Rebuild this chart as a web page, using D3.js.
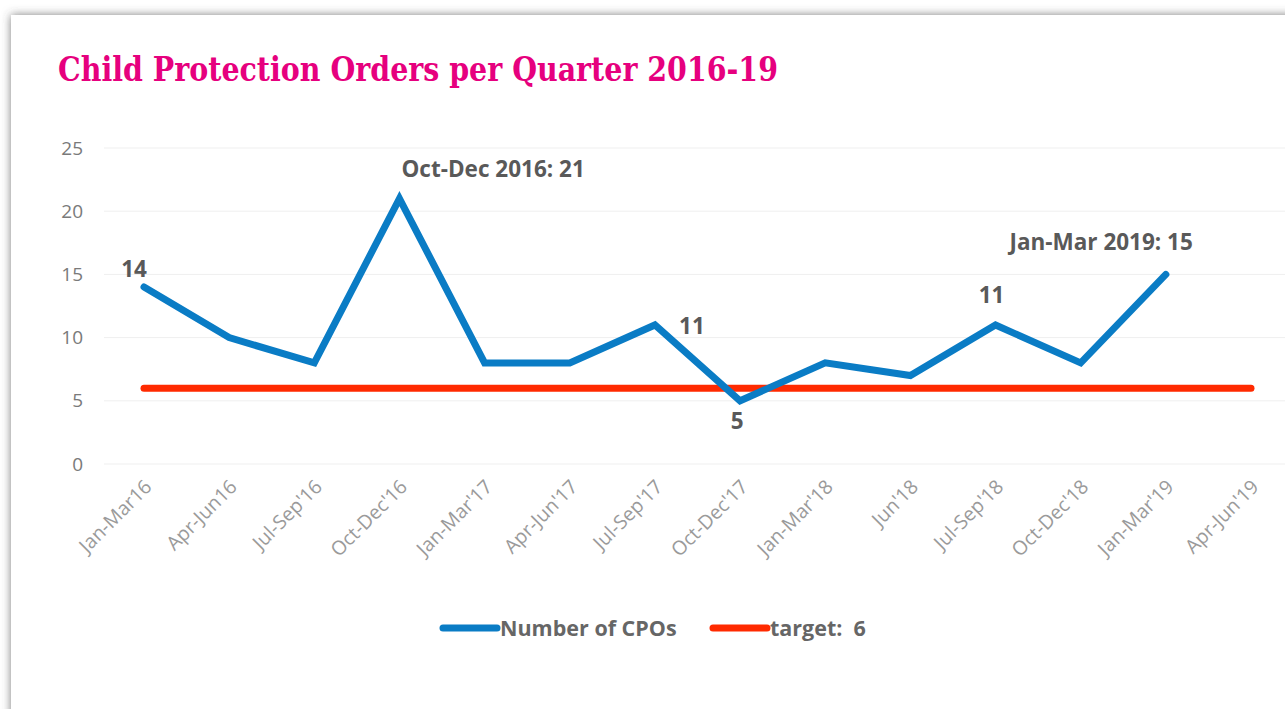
<!DOCTYPE html>
<html>
<head>
<meta charset="utf-8">
<script src="https://cdn.jsdelivr.net/npm/d3@7"></script>
<style>
  html, body { margin: 0; padding: 0; background: #fff; }
  svg { display: block; }
</style>
</head>
<body>
<div id="chart"></div>
<script>
// data
const quarters = ["Jan-Mar16", "Apr-Jun16", "Jul-Sep'16", "Oct-Dec'16", "Jan-Mar'17", "Apr-Jun'17",
  "Jul-Sep'17", "Oct-Dec'17", "Jan-Mar'18", "Jun'18", "Jul-Sep'18", "Oct-Dec'18", "Jan-Mar'19", "Apr-Jun'19"];
const cpoValues = [14, 10, 8, 21, 8, 8, 11, 5, 8, 7, 11, 8, 15, null];
const targetValues = [6, 6, 6, 6, 6, 6, 6, 6, 6, 6, 6, 6, 6, 6];
const yTicks = [0, 5, 10, 15, 20, 25];
const seriesNames = ["Number of CPOs", "target:  6"];
// data labels: index of point + text
const pointLabels = [
  { i: 0, text: "14", pos: "upleft" },
  { i: 3, text: "Oct-Dec 2016: 21", pos: "aboveright" },
  { i: 6, text: "11", pos: "right" },
  { i: 7, text: "5", pos: "below" },
  { i: 10, text: "11", pos: "above" },
  { i: 12, text: "Jan-Mar 2019: 15", pos: "aboveleft" }
];

const W = 1285, H = 709;
const blue = "#0a7cc5", red = "#ff2a00";

const svg = d3.select("#chart").append("svg")
  .attr("width", W).attr("height", H);

// card with shadow
const defs = svg.append("defs");
const f = defs.append("filter").attr("id", "shadow")
  .attr("x", "-5%").attr("y", "-5%").attr("width", "110%").attr("height", "110%");
f.append("feDropShadow").attr("dx", 0).attr("dy", 0)
  .attr("stdDeviation", 5).attr("flood-color", "#444").attr("flood-opacity", 0.7);

svg.append("rect").attr("width", W).attr("height", H).attr("fill", "#fff");
svg.append("rect")
  .attr("x", 11).attr("y", 15).attr("width", W + 40).attr("height", H + 40)
  .attr("fill", "#fff").attr("filter", "url(#shadow)");

// title
svg.append("text")
  .attr("x", 58).attr("y", 81)
  .attr("fill", "#e6007e")
  .style("font-family", "'DejaVu Serif Condensed', 'DejaVu Serif', serif")
  .style("font-weight", "700")
  .style("font-size", "33px")
  .attr("textLength", 720)
  .attr("lengthAdjust", "spacingAndGlyphs")
  .text("Child Protection Orders per Quarter 2016-19");

// scales
const x = d3.scalePoint().domain(quarters).range([144, 1251]);
const step = x.step();
const y = d3.scaleLinear().domain([0, 25]).range([464, 148]);

// gridlines
svg.append("g")
  .selectAll("line")
  .data(yTicks)
  .join("line")
  .attr("x1", 104).attr("x2", 1251 + step / 2)
  .attr("y1", d => y(d)).attr("y2", d => y(d))
  .attr("stroke", "#efefef").attr("stroke-width", 1);

// y axis
const yAxis = svg.append("g")
  .attr("transform", "translate(83,0)")
  .call(d3.axisLeft(y).tickValues(yTicks).tickSize(0).tickPadding(0));
yAxis.select(".domain").remove();
yAxis.selectAll("text")
  .attr("fill", "#7a7a7a")
  .style("font-family", "'Open Sans', sans-serif")
  .style("font-size", "19px");

// x axis labels
const xAxis = svg.append("g")
  .call(d3.axisBottom(x).tickSize(0).tickPadding(0));
xAxis.select(".domain").remove();
xAxis.selectAll(".tick").attr("transform", null);
xAxis.selectAll(".tick text")
  .attr("y", null).attr("dy", null)
  .attr("text-anchor", "end")
  .attr("transform", d => `translate(${x(d) + 9},488) rotate(-45)`)
  .attr("fill", "#9a9a9a")
  .style("font-family", "'Open Sans', sans-serif")
  .style("font-size", "19.5px");

// lines
const line = d3.line()
  .defined(d => d != null)
  .x((d, i) => x(quarters[i]))
  .y(d => y(d));

svg.append("path")
  .datum(targetValues)
  .attr("d", line)
  .attr("fill", "none")
  .attr("stroke", red)
  .attr("stroke-width", 7)
  .attr("stroke-linecap", "round");

svg.append("path")
  .datum(cpoValues)
  .attr("d", line)
  .attr("fill", "none")
  .attr("stroke", blue)
  .attr("stroke-width", 7)
  .attr("stroke-linecap", "round")
  .attr("stroke-linejoin", "miter");

// data labels
const offsets = {
  upleft: { dx: -10, dy: -10, anchor: "middle" },
  aboveright: { dx: 2, dy: -22, anchor: "start" },
  right: { dx: 37, dy: 9, anchor: "middle" },
  below: { dx: -3, dy: 28, anchor: "middle" },
  above: { dx: -4, dy: -22, anchor: "middle" },
  aboveleft: { dx: 27, dy: -24, anchor: "end" }
};
svg.append("g")
  .selectAll("text")
  .data(pointLabels)
  .join("text")
  .attr("x", d => x(quarters[d.i]) + offsets[d.pos].dx)
  .attr("y", d => y(cpoValues[d.i]) + offsets[d.pos].dy)
  .attr("text-anchor", d => offsets[d.pos].anchor)
  .attr("fill", "#595959")
  .style("font-family", "'Open Sans', sans-serif")
  .style("font-weight", "700")
  .style("font-size", "22.5px")
  .text(d => d.text);

// legend
const legendColors = [blue, red];
const legendX = [443, 713];
const legend = svg.append("g");
seriesNames.forEach((name, i) => {
  const g = legend.append("g").attr("transform", `translate(${legendX[i]},628)`);
  g.append("line")
    .attr("x1", 0).attr("x2", 54)
    .attr("stroke", legendColors[i]).attr("stroke-width", 7)
    .attr("stroke-linecap", "round");
  g.append("text")
    .attr("x", 57).attr("y", 8)
    .attr("fill", "#666")
    .style("font-family", "'Open Sans', sans-serif")
    .style("font-weight", "700")
    .style("font-size", "21.5px")
    .style("white-space", "pre")
    .text(name);
});
</script>
</body>
</html>
